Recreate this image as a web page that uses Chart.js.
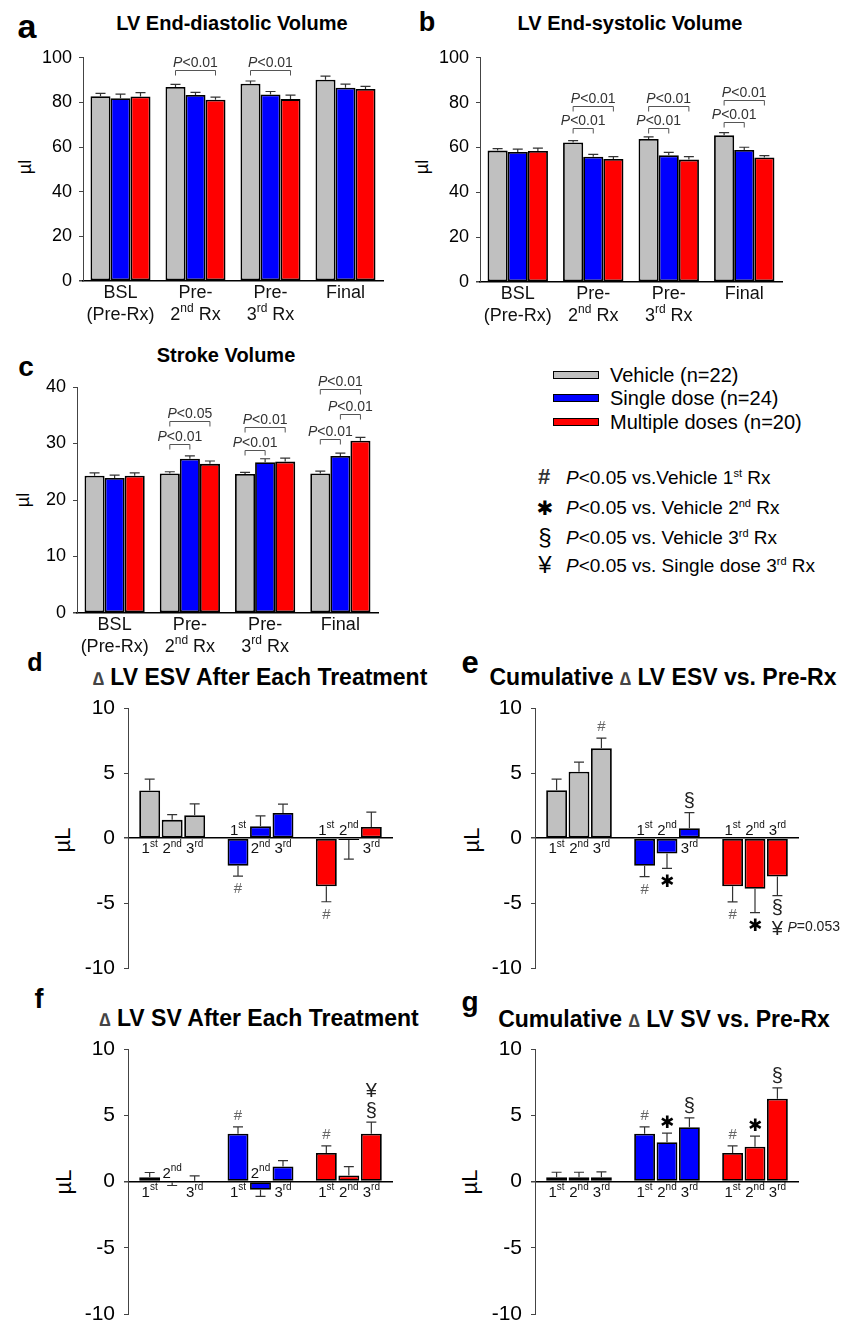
<!DOCTYPE html>
<html>
<head>
<meta charset="utf-8">
<script src="https://cdn.jsdelivr.net/npm/chart.js@4.4.1/dist/chart.umd.min.js"></script>
<style>
  html, body { margin: 0; padding: 0; background: #fff; }
  body { position: relative; width: 853px; height: 1324px; overflow: hidden;
         font-family: "Liberation Sans", Arial, sans-serif; color: #000; }
  canvas { position: absolute; }
  .c { position: absolute; transform: translate(-50%, -50%); white-space: nowrap; line-height: 1; }
  .title { font-weight: bold; }
  .title .d { font-size: 0.8em; color: #444; }
  .letter { font-weight: bold; }
  .ytitle { transform: translate(-50%, -50%) rotate(-90deg); }
  .box { position: absolute; left: 553px; width: 44px; height: 6px; border: 1px solid #000; }
  .lt { position: absolute; left: 610px; font-size: 20px; line-height: 1; transform: translateY(-50%); white-space: nowrap; }
  .st { position: absolute; left: 566px; font-size: 19px; line-height: 1; transform: translateY(-50%); white-space: nowrap; }
  sup { font-size: 0.58em; vertical-align: 0.6em; line-height: 0; }
</style>
</head>
<body>

<!-- panel letters -->
<div class="c letter" style="left:27px;top:26px;font-size:34px">a</div>
<div class="c letter" style="left:427px;top:22px;font-size:27px">b</div>
<div class="c letter" style="left:26px;top:367px;font-size:28px">c</div>
<div class="c letter" style="left:35px;top:662px;font-size:25px">d</div>
<div class="c letter" style="left:470px;top:662px;font-size:31px">e</div>
<div class="c letter" style="left:39px;top:999px;font-size:27px">f</div>
<div class="c letter" style="left:470px;top:1002px;font-size:28px">g</div>

<!-- titles -->
<div class="c title" style="left:232px;top:23px;font-size:20px">LV End-diastolic Volume</div>
<div class="c title" style="left:630px;top:23px;font-size:20px">LV End-systolic Volume</div>
<div class="c title" style="left:226px;top:355px;font-size:20px">Stroke Volume</div>
<div class="c title" style="left:260px;top:677px;font-size:23px"><span class="d">∆</span> LV ESV After Each Treatment</div>
<div class="c title" style="left:663px;top:677px;font-size:23px">Cumulative <span class="d">∆</span> LV ESV vs. Pre-Rx</div>
<div class="c title" style="left:259px;top:1018px;font-size:23px"><span class="d">∆</span> LV SV After Each Treatment</div>
<div class="c title" style="left:664px;top:1019px;font-size:23px">Cumulative <span class="d">∆</span> LV SV vs. Pre-Rx</div>

<!-- y axis titles -->
<div class="c ytitle" style="left:25px;top:167px;font-size:18px">µl</div>
<div class="c ytitle" style="left:422px;top:167px;font-size:18px">µl</div>
<div class="c ytitle" style="left:23px;top:500px;font-size:18px">µl</div>
<div class="c ytitle" style="left:63px;top:840px;font-size:22px">µL</div>
<div class="c ytitle" style="left:472px;top:840px;font-size:22px">µL</div>
<div class="c ytitle" style="left:64px;top:1182px;font-size:22px">µL</div>
<div class="c ytitle" style="left:470px;top:1182px;font-size:22px">µL</div>

<!-- group legend -->
<div class="box" style="top:371px;background:#c0c0c0"></div>
<div class="lt" style="top:375px">Vehicle (n=22)</div>
<div class="box" style="top:394px;background:#0000ff"></div>
<div class="lt" style="top:398px">Single dose (n=24)</div>
<div class="box" style="top:418px;background:#ff0000"></div>
<div class="lt" style="top:422px">Multiple doses (n=20)</div>

<!-- symbol legend -->
<div class="c" style="left:544px;top:477px;font-size:22px;font-weight:bold;color:#333">#</div>
<div class="st" style="top:477px"><i>P</i>&lt;0.05 vs.Vehicle 1<sup>st</sup> Rx</div>
<div class="c" style="left:545px;top:508px;font-size:20px;font-family:'DejaVu Sans'">✱</div>
<div class="st" style="top:507px"><i>P</i>&lt;0.05 vs. Vehicle 2<sup>nd</sup> Rx</div>
<div class="c" style="left:545px;top:537px;font-size:24px">§</div>
<div class="st" style="top:537px"><i>P</i>&lt;0.05 vs. Vehicle 3<sup>rd</sup> Rx</div>
<div class="c" style="left:545px;top:565px;font-size:24px">¥</div>
<div class="st" style="top:565px"><i>P</i>&lt;0.05 vs. Single dose 3<sup>rd</sup> Rx</div>

<script>
// ---- data ----
const timepoints = ['BSL\n(Pre-Rx)', 'Pre-\n2^{nd} Rx', 'Pre-\n3^{rd} Rx', 'Final'];
const groups = ['Vehicle', 'Single dose', 'Multiple doses'];
const treatments = ['1^{st}', '2^{nd}', '3^{rd}'];

// a: LV end-diastolic volume (µl), mean and SEM per timepoint
const edvVehicle = [82.8, 86.9, 88.4, 90.2];
const edvSingle = [81.9, 83.3, 83.6, 86.6];
const edvMultiple = [82.7, 81.2, 81.5, 86.0];
const edvVehicleSem = [1.3, 1.2, 1.2, 1.6];
const edvSingleSem = [1.8, 1.2, 1.3, 1.6];
const edvMultipleSem = [1.7, 1.2, 1.8, 1.2];
// [timepoint, group from, group to, height, text]
const edvBrackets = [[1, 0, 2, 94.7, 'P<0.01'], [2, 0, 2, 94.7, 'P<0.01']];

// b: LV end-systolic volume (µl)
const esvVehicle = [58.6, 62.2, 63.8, 65.4];
const esvSingle = [58.0, 55.9, 56.5, 58.9];
const esvMultiple = [58.4, 54.9, 54.6, 55.5];
const esvVehicleSem = [0.9, 0.9, 0.9, 1.2];
const esvSingleSem = [1.3, 1.0, 1.3, 1.2];
const esvMultipleSem = [1.3, 1.0, 1.3, 0.9];
const esvBrackets = [
  [1, 0, 1, 68.9, 'P<0.01'], [1, 0, 2, 78.6, 'P<0.01'],
  [2, 0, 1, 68.9, 'P<0.01'], [2, 0, 2, 78.6, 'P<0.01'],
  [3, 0, 1, 71.5, 'P<0.01'], [3, 0, 2, 81.3, 'P<0.01']
];

// c: stroke volume (µl)
const svVehicle = [24.3, 24.7, 24.6, 24.7];
const svSingle = [23.9, 27.3, 26.7, 27.8];
const svMultiple = [24.3, 26.4, 26.8, 30.5];
const svVehicleSem = [0.5, 0.3, 0.3, 0.4];
const svSingleSem = [0.5, 0.5, 0.6, 0.5];
const svMultipleSem = [0.5, 0.5, 0.6, 0.6];
const svBrackets = [
  [1, 0, 1, 30.0, 'P<0.01'], [1, 0, 2, 33.9, 'P<0.05'],
  [2, 0, 1, 28.9, 'P<0.01'], [2, 0, 2, 33.0, 'P<0.01'],
  [3, 0, 1, 30.8, 'P<0.01'], [3, 1, 2, 35.3, 'P<0.01'], [3, 0, 2, 39.6, 'P<0.01']
];

// d: delta ESV after each treatment (µL), per group: 1st, 2nd, 3rd
const dEsvVehicle = [3.67, 1.41, 1.76];
const dEsvSingle = [-2.11, 0.91, 1.94];
const dEsvMultiple = [-3.70, -0.13, 0.86];
const dEsvVehicleSem = [0.86, 0.40, 0.88];
const dEsvSingleSem = [0.81, 0.80, 0.68];
const dEsvMultipleSem = [1.18, 1.47, 1.15];
const dEsvMarks = [{ g: 1, t: 0, s: ['#'] }, { g: 2, t: 0, s: ['#'] }];

// e: cumulative delta ESV vs pre-Rx
const cEsvVehicle = [3.68, 5.11, 6.90];
const cEsvSingle = [-2.12, -1.18, 0.76];
const cEsvMultiple = [-3.70, -3.88, -2.95];
const cEsvVehicleSem = [0.85, 0.73, 0.78];
const cEsvSingleSem = [0.83, 1.14, 1.20];
const cEsvMultipleSem = [1.19, 1.84, 1.46];
const cEsvMarks = [
  { g: 0, t: 2, s: ['#'] }, { g: 1, t: 0, s: ['#'] }, { g: 1, t: 1, s: ['*'] }, { g: 1, t: 2, s: ['§'] },
  { g: 2, t: 0, s: ['#'] }, { g: 2, t: 1, s: ['*'] }, { g: 2, t: 2, s: ['§', '¥'], note: 'P=0.053' }
];

// f: delta SV after each treatment
const dSvVehicle = [0.33, -0.05, 0.05];
const dSvSingle = [3.60, -0.63, 1.13];
const dSvMultiple = [2.16, 0.45, 3.60];
const dSvVehicleSem = [0.35, 0.25, 0.38];
const dSvSingleSem = [0.53, 0.50, 0.45];
const dSvMultipleSem = [0.53, 0.68, 0.88];
const dSvMarks = [{ g: 1, t: 0, s: ['#'] }, { g: 2, t: 0, s: ['#'] }, { g: 2, t: 2, s: ['§', '¥'] }];

// g: cumulative delta SV vs pre-Rx
const cSvVehicle = [0.33, 0.33, 0.33];
const cSvSingle = [3.60, 2.97, 4.10];
const cSvMultiple = [2.16, 2.62, 6.24];
const cSvVehicleSem = [0.37, 0.37, 0.40];
const cSvSingleSem = [0.53, 0.68, 0.70];
const cSvMultipleSem = [0.53, 0.80, 0.83];
const cSvMarks = [
  { g: 1, t: 0, s: ['#'] }, { g: 1, t: 1, s: ['*'] }, { g: 1, t: 2, s: ['§'] },
  { g: 2, t: 0, s: ['#'] }, { g: 2, t: 1, s: ['*'] }, { g: 2, t: 2, s: ['§'] }
];

// ---- drawing helpers ----
const FONT = '"Liberation Sans", Arial, sans-serif';
const colors = ['#c0c0c0', '#0000ff', '#ff0000'];

// '2^{nd} Rx' -> superscript, '~{P}' -> italic
function richParts(str) {
  const parts = [];
  const re = /([\^~])\{([^}]*)\}/g;
  let last = 0, m;
  while ((m = re.exec(str))) {
    if (m.index > last) parts.push({ t: str.slice(last, m.index) });
    parts.push({ t: m[2], sup: m[1] === '^', it: m[1] === '~' });
    last = re.lastIndex;
  }
  if (last < str.length) parts.push({ t: str.slice(last) });
  return parts;
}

function drawRich(ctx, str, x, cy, size, color, align) {
  const parts = richParts(str);
  const supSize = Math.round(size * 0.64);
  const fontOf = p => (p.it ? 'italic ' : '') + (p.sup ? supSize : size) + 'px ' + FONT;
  let w = 0;
  parts.forEach(p => { ctx.font = fontOf(p); p.w = ctx.measureText(p.t).width; w += p.w; });
  let px = align === 'left' ? x : x - w / 2;
  ctx.fillStyle = color;
  ctx.textAlign = 'left';
  ctx.textBaseline = 'middle';
  parts.forEach(p => {
    ctx.font = fontOf(p);
    ctx.fillText(p.t, px, p.sup ? cy - size * 0.36 : cy);
    px += p.w;
  });
}

const symStyle = {
  '#': { font: '15px ' + FONT, color: '#666' },
  '*': { font: '17px "DejaVu Sans"', color: '#000', glyph: '✱' },
  '§': { font: '20px ' + FONT, color: '#222' },
  '¥': { font: '20px ' + FONT, color: '#222' }
};

function drawSymbol(ctx, s, x, cy) {
  const st = symStyle[s];
  const g = st.glyph || s;
  ctx.font = st.font;
  ctx.fillStyle = st.color;
  ctx.textAlign = 'center';
  ctx.textBaseline = 'alphabetic';
  const m = ctx.measureText(g);
  ctx.fillText(g, x, cy + (m.actualBoundingBoxAscent - m.actualBoundingBoxDescent) / 2);
}

function annotations(p) {
  return {
    id: 'annot',
    afterDatasetsDraw(chart) {
      const ctx = chart.ctx, ys = chart.scales.y, xs = chart.scales.x, area = chart.chartArea;
      ctx.save();

      // error bars, away from zero
      chart.data.datasets.forEach((ds, di) => {
        chart.getDatasetMeta(di).data.forEach((bar, i) => {
          const v = ds.data[i], e = p.errors[di][i];
          const y0 = ys.getPixelForValue(v);
          const y1 = ys.getPixelForValue(v >= 0 ? v + e : v - e);
          ctx.strokeStyle = '#333';
          ctx.lineWidth = 1.2;
          ctx.beginPath();
          ctx.moveTo(bar.x, y0); ctx.lineTo(bar.x, y1);
          ctx.moveTo(bar.x - 5, y1); ctx.lineTo(bar.x + 5, y1);
          ctx.stroke();
        });
      });

      // timepoint labels under the axis
      if (p.timeLabels) {
        p.timeLabels.forEach((lab, i) => {
          const x = xs.getPixelForValue(i);
          lab.split('\n').forEach((line, k) => drawRich(ctx, line, x, area.bottom + 12.5 + k * 22, 18, '#111'));
        });
      }

      // 1st/2nd/3rd labels beside the zero line
      if (p.treatLabels) {
        const zero = ys.getPixelForValue(0);
        chart.data.datasets.forEach((ds, t) => {
          chart.getDatasetMeta(t).data.forEach((bar, g) => {
            const v = ds.data[g];
            drawRich(ctx, p.treatLabels[t], bar.x, v >= 0 ? zero + 11 : zero - 7.5, 15, '#111');
          });
        });
      }

      // significance brackets
      (p.brackets || []).forEach(([tp, s1, s2, yv, txt]) => {
        const x1 = chart.getDatasetMeta(s1).data[tp].x;
        const x2 = chart.getDatasetMeta(s2).data[tp].x;
        const y = Math.round(ys.getPixelForValue(yv)) + 0.5;
        ctx.strokeStyle = '#555';
        ctx.lineWidth = 1;
        ctx.beginPath();
        ctx.moveTo(x1, y + 5); ctx.lineTo(x1, y); ctx.lineTo(x2, y); ctx.lineTo(x2, y + 5);
        ctx.stroke();
        drawRich(ctx, '~{' + txt[0] + '}' + txt.slice(1), (x1 + x2) / 2, y - 7, 14, '#333');
      });

      // symbols beyond the error bars
      (p.marks || []).forEach(m => {
        const bar = chart.getDatasetMeta(m.t).data[m.g];
        const v = chart.data.datasets[m.t].data[m.g], e = p.errors[m.t][m.g];
        const dir = v >= 0 ? -1 : 1;
        const cap = ys.getPixelForValue(v >= 0 ? v + e : v - e);
        m.s.forEach((sym, k) => {
          const cy = cap + dir * (12 + k * 20);
          drawSymbol(ctx, sym, bar.x, cy);
          if (m.note && k === m.s.length - 1) {
            drawRich(ctx, '~{' + m.note[0] + '}' + m.note.slice(1), bar.x + 10, cy, 14, '#222', 'left');
          }
        });
      });

      ctx.restore();
    }
  };
}

function makePanel(p) {
  const canvas = document.createElement('canvas');
  canvas.width = p.w; canvas.height = p.h;
  canvas.style.left = p.left + 'px'; canvas.style.top = p.top + 'px';
  canvas.style.width = p.w + 'px'; canvas.style.height = p.h + 'px';
  document.body.appendChild(canvas);

  const padLeft = p.area.l - p.left, padTop = p.area.t - p.top;
  const padRight = p.left + p.w - p.area.r, padBottom = p.top + p.h - p.area.b;
  const midZero = p.yMin < 0;

  new Chart(canvas, {
    type: 'bar',
    data: { labels: p.labels, datasets: p.datasets },
    options: {
      responsive: false,
      animation: false,
      layout: { padding: { left: 0, top: padTop, right: padRight, bottom: 0 } },
      plugins: { legend: { display: false }, tooltip: { enabled: false } },
      datasets: {
        bar: {
          borderColor: '#000', borderWidth: 1.8, borderSkipped: false,
          categoryPercentage: p.catPct, barPercentage: p.barPct
        }
      },
      scales: {
        x: {
          offset: true,
          grid: { display: false },
          ticks: { display: false },
          border: { display: !midZero, color: '#000', width: 1.5 },
          afterFit: s => { s.height = padBottom; }
        },
        y: {
          min: p.yMin, max: p.yMax,
          ticks: { stepSize: p.yStep, color: '#000', padding: p.tickPad, font: { family: FONT, size: p.tickSize } },
          grid: {
            drawOnChartArea: midZero,
            color: c => (midZero && c.tick && c.tick.value === 0) ? '#000' : 'rgba(0,0,0,0)',
            lineWidth: c => (c.tick && c.tick.value === 0) ? 1.5 : 1,
            tickColor: '#444', tickLength: 4
          },
          border: { color: '#444', width: 1 },
          afterFit: s => { s.width = padLeft; }
        }
      }
    },
    plugins: [annotations(p)]
  });
}

function timeDatasets(series) {
  return series.map((data, i) => ({ label: groups[i], data, backgroundColor: colors[i] }));
}
function treatDatasets(series) {
  return treatments.map((lab, t) => ({ label: lab, data: series.map(s => s[t]), backgroundColor: colors }));
}
function treatErrors(sems) {
  return treatments.map((lab, t) => sems.map(s => s[t]));
}

const timeOpts = { labels: timepoints, timeLabels: timepoints, catPct: 0.8, barPct: 1.0, tickSize: 18, tickPad: 7 };
const treatOpts = { labels: groups, treatLabels: treatments, catPct: 0.764, barPct: 0.93, tickSize: 21, tickPad: 9,
                    yMin: -10, yMax: 10, yStep: 5 };

makePanel(Object.assign({}, timeOpts, {
  left: 0, top: 40, w: 400, h: 300, area: { l: 83, t: 54, r: 383, b: 281 },
  yMin: 0, yMax: 100, yStep: 20,
  datasets: timeDatasets([edvVehicle, edvSingle, edvMultiple]),
  errors: [edvVehicleSem, edvSingleSem, edvMultipleSem],
  brackets: edvBrackets
}));

makePanel(Object.assign({}, timeOpts, {
  left: 400, top: 40, w: 453, h: 300, area: { l: 480, t: 54, r: 782, b: 282 },
  yMin: 0, yMax: 100, yStep: 20,
  datasets: timeDatasets([esvVehicle, esvSingle, esvMultiple]),
  errors: [esvVehicleSem, esvSingleSem, esvMultipleSem],
  brackets: esvBrackets
}));

makePanel(Object.assign({}, timeOpts, {
  left: 0, top: 340, w: 400, h: 330, area: { l: 77, t: 387, r: 378, b: 613 },
  yMin: 0, yMax: 40, yStep: 10,
  datasets: timeDatasets([svVehicle, svSingle, svMultiple]),
  errors: [svVehicleSem, svSingleSem, svMultipleSem],
  brackets: svBrackets
}));

makePanel(Object.assign({}, treatOpts, {
  left: 0, top: 650, w: 420, h: 340, area: { l: 128, t: 708, r: 393, b: 973 },
  datasets: treatDatasets([dEsvVehicle, dEsvSingle, dEsvMultiple]),
  errors: treatErrors([dEsvVehicleSem, dEsvSingleSem, dEsvMultipleSem]),
  marks: dEsvMarks
}));

makePanel(Object.assign({}, treatOpts, {
  left: 430, top: 650, w: 423, h: 340, area: { l: 535, t: 708, r: 799, b: 972 },
  datasets: treatDatasets([cEsvVehicle, cEsvSingle, cEsvMultiple]),
  errors: treatErrors([cEsvVehicleSem, cEsvSingleSem, cEsvMultipleSem]),
  marks: cEsvMarks
}));

makePanel(Object.assign({}, treatOpts, {
  left: 0, top: 1000, w: 420, h: 340, area: { l: 128, t: 1049, r: 393, b: 1314 },
  datasets: treatDatasets([dSvVehicle, dSvSingle, dSvMultiple]),
  errors: treatErrors([dSvVehicleSem, dSvSingleSem, dSvMultipleSem]),
  marks: dSvMarks
}));

makePanel(Object.assign({}, treatOpts, {
  left: 430, top: 1000, w: 423, h: 340, area: { l: 535, t: 1049, r: 799, b: 1314 },
  datasets: treatDatasets([cSvVehicle, cSvSingle, cSvMultiple]),
  errors: treatErrors([cSvVehicleSem, cSvSingleSem, cSvMultipleSem]),
  marks: cSvMarks
}));
</script>
</body>
</html>
